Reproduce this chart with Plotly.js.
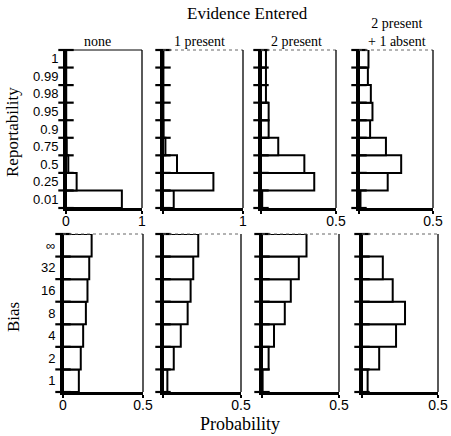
<!DOCTYPE html>
<html>
<head>
<meta charset="utf-8">
<script src="https://cdn.plot.ly/plotly-3.0.1.min.js"></script>
<style>html,body{margin:0;padding:0;background:#fff;}#chart{width:451px;height:436px;}</style>
</head>
<body>
<div id="chart"></div>
<script>
// Category labels (bottom to top)
const reportLabels = ['0.01', '0.25', '0.5', '0.75', '0.9', '0.95', '0.98', '0.99', '1'];
const biasLabels = ['1', '2', '4', '8', '16', '32', '\u221E'];

// Column headings
const columnTitles = ['none', '1 present', '2 present', '2 present<br>+ 1 absent'];

// Reportability probabilities (bottom to top)
const repNone = [0.735, 0.14, 0.03, 0.01, 0.003, 0.003, 0.003, 0.003, 0.003];
const rep1Present = [0.134, 0.63, 0.175, 0.03, 0.008, 0.005, 0.005, 0.005, 0.005];
const rep2Present = [0.008, 0.355, 0.289, 0.115, 0.051, 0.051, 0.033, 0.033, 0.033];
const rep2Present1Absent = [0.01, 0.194, 0.285, 0.182, 0.075, 0.091, 0.08, 0.06, 0.064];

// Bias probabilities (bottom to top)
const biasNone = [0.099, 0.111, 0.126, 0.143, 0.153, 0.164, 0.179];
const bias1Present = [0.028, 0.069, 0.114, 0.158, 0.177, 0.194, 0.226];
const bias2Present = [0.004, 0.043, 0.078, 0.148, 0.187, 0.239, 0.289];
const bias2Present1Absent = [0.037, 0.113, 0.224, 0.283, 0.202, 0.137, 0.0];

// x-axis maxima per panel
const topMax = [1, 1, 0.5, 0.5];
const bottomMax = [0.5, 0.5, 0.5, 0.5];

const W = 451, H = 436;
const topCols = [[66, 142], [163, 243], [261, 336], [359, 433]];
const botCols = [[63, 143], [163, 241], [262, 339], [362, 438]];
const topRowY = [50, 208];
const botRowY = [234, 392];

const panels = [
  {vals: repNone, cats: reportLabels, xmax: topMax[0], col: 0, cols: topCols, rowY: topRowY},
  {vals: rep1Present, cats: reportLabels, xmax: topMax[1], col: 1, cols: topCols, rowY: topRowY},
  {vals: rep2Present, cats: reportLabels, xmax: topMax[2], col: 2, cols: topCols, rowY: topRowY},
  {vals: rep2Present1Absent, cats: reportLabels, xmax: topMax[3], col: 3, cols: topCols, rowY: topRowY},
  {vals: biasNone, cats: biasLabels, xmax: bottomMax[0], col: 0, cols: botCols, rowY: botRowY},
  {vals: bias1Present, cats: biasLabels, xmax: bottomMax[1], col: 1, cols: botCols, rowY: botRowY},
  {vals: bias2Present, cats: biasLabels, xmax: bottomMax[2], col: 2, cols: botCols, rowY: botRowY},
  {vals: bias2Present1Absent, cats: biasLabels, xmax: bottomMax[3], col: 3, cols: botCols, rowY: botRowY}
];

const data = [];
const layout = {
  width: W, height: H,
  margin: {l: 0, r: 0, t: 0, b: 0},
  paper_bgcolor: '#fff', plot_bgcolor: 'rgba(0,0,0,0)',
  showlegend: false,
  bargap: 0,
  shapes: [],
  annotations: []
};

const tickFont = {family: 'Liberation Sans, Arial, sans-serif', size: 13, color: '#000'};

panels.forEach((p, k) => {
  const i = k + 1;
  const xs = i === 1 ? 'x' : 'x' + i;
  const ys = i === 1 ? 'y' : 'y' + i;
  const n = p.cats.length;
  const idx = p.cats.map((_, j) => j);
  const dom = p.cols[p.col];

  data.push({
    type: 'bar', orientation: 'h',
    x: p.vals, y: idx, width: 1,
    xaxis: xs, yaxis: ys,
    marker: {color: 'rgba(255,255,255,1)', line: {color: '#000', width: 2}},
    hoverinfo: 'none', cliponaxis: false
  });
  // boundary tick marks crossing the category axis
  const bounds = [];
  for (let j = 0; j <= n; j++) bounds.push(j - 0.5);
  data.push({
    type: 'scatter', mode: 'markers',
    x: bounds.map(() => 0), y: bounds,
    xaxis: xs, yaxis: ys,
    marker: {symbol: 'line-ew', size: 11, line: {color: '#000', width: 2.2}},
    hoverinfo: 'none', cliponaxis: false
  });

  const xname = i === 1 ? 'xaxis' : 'xaxis' + i;
  const yname = i === 1 ? 'yaxis' : 'yaxis' + i;
  layout[xname] = {
    domain: [dom[0] / W, dom[1] / W],
    anchor: ys,
    range: [0, p.xmax],
    showline: true, linewidth: 2.5, linecolor: '#000',
    showgrid: false, zeroline: false,
    tickmode: 'array', tickvals: [0, p.xmax],
    ticktext: [p.col === 0 ? '0' : '', String(p.xmax)],
    ticks: 'outside', ticklen: 3, tickwidth: 1.5, tickcolor: '#000',
    ticklabelstandoff: -4,
    tickfont: {family: 'Liberation Sans, Arial, sans-serif', size: 14, color: '#000'},
    fixedrange: true
  };
  layout[yname] = {
    domain: [1 - p.rowY[1] / H, 1 - p.rowY[0] / H],
    anchor: xs,
    range: [-0.5, n - 0.5],
    showline: true, linewidth: 3, linecolor: '#000',
    showgrid: false, zeroline: false,
    tickmode: 'array', tickvals: idx, ticktext: p.cats,
    showticklabels: p.col === 0,
    ticks: '', ticklabelstandoff: 2,
    tickfont: tickFont,
    fixedrange: true
  };
  // top and right frame lines
  layout.shapes.push({
    type: 'line', xref: xs + ' domain', yref: ys + ' domain',
    x0: 0, x1: 1, y0: 1, y1: 1,
    line: {color: p.col === 0 && k < 4 ? '#000' : '#666', width: 1, dash: p.col === 0 && k < 4 ? 'solid' : 'dot'}
  });
  layout.shapes.push({
    type: 'line', xref: xs + ' domain', yref: ys + ' domain',
    x0: 1, x1: 1, y0: 0, y1: 1,
    line: {color: '#000', width: 1.3}
  });
});

const serif = 'Liberation Serif, Times New Roman, serif';
const titleX = [97, 199, 296, 397];
columnTitles.forEach((t, c) => {
  layout.annotations.push({
    xref: 'paper', yref: 'paper',
    x: titleX[c] / W, y: 1 - 51 / H,
    xanchor: 'center', yanchor: 'bottom',
    text: t, showarrow: false,
    font: {family: serif, size: 14, color: '#000'}
  });
});
layout.annotations.push({
  xref: 'paper', yref: 'paper', x: 247 / W, y: 1 - 2 / H,
  xanchor: 'center', yanchor: 'top', text: 'Evidence Entered', showarrow: false,
  font: {family: serif, size: 17, color: '#000'}
});
layout.annotations.push({
  xref: 'paper', yref: 'paper', x: 240 / W, y: 1 - 436 / H,
  xanchor: 'center', yanchor: 'bottom', text: 'Probability', showarrow: false,
  font: {family: serif, size: 18, color: '#000'}
});
layout.annotations.push({
  xref: 'paper', yref: 'paper', x: 13 / W, y: 1 - 132 / H,
  xanchor: 'center', yanchor: 'middle', text: 'Reportability', showarrow: false, textangle: -90,
  font: {family: serif, size: 17, color: '#000'}
});
layout.annotations.push({
  xref: 'paper', yref: 'paper', x: 13 / W, y: 1 - 317 / H,
  xanchor: 'center', yanchor: 'middle', text: 'Bias', showarrow: false, textangle: -90,
  font: {family: serif, size: 17, color: '#000'}
});

Plotly.newPlot('chart', data, layout, {staticPlot: true, displayModeBar: false});
</script>
</body>
</html>
